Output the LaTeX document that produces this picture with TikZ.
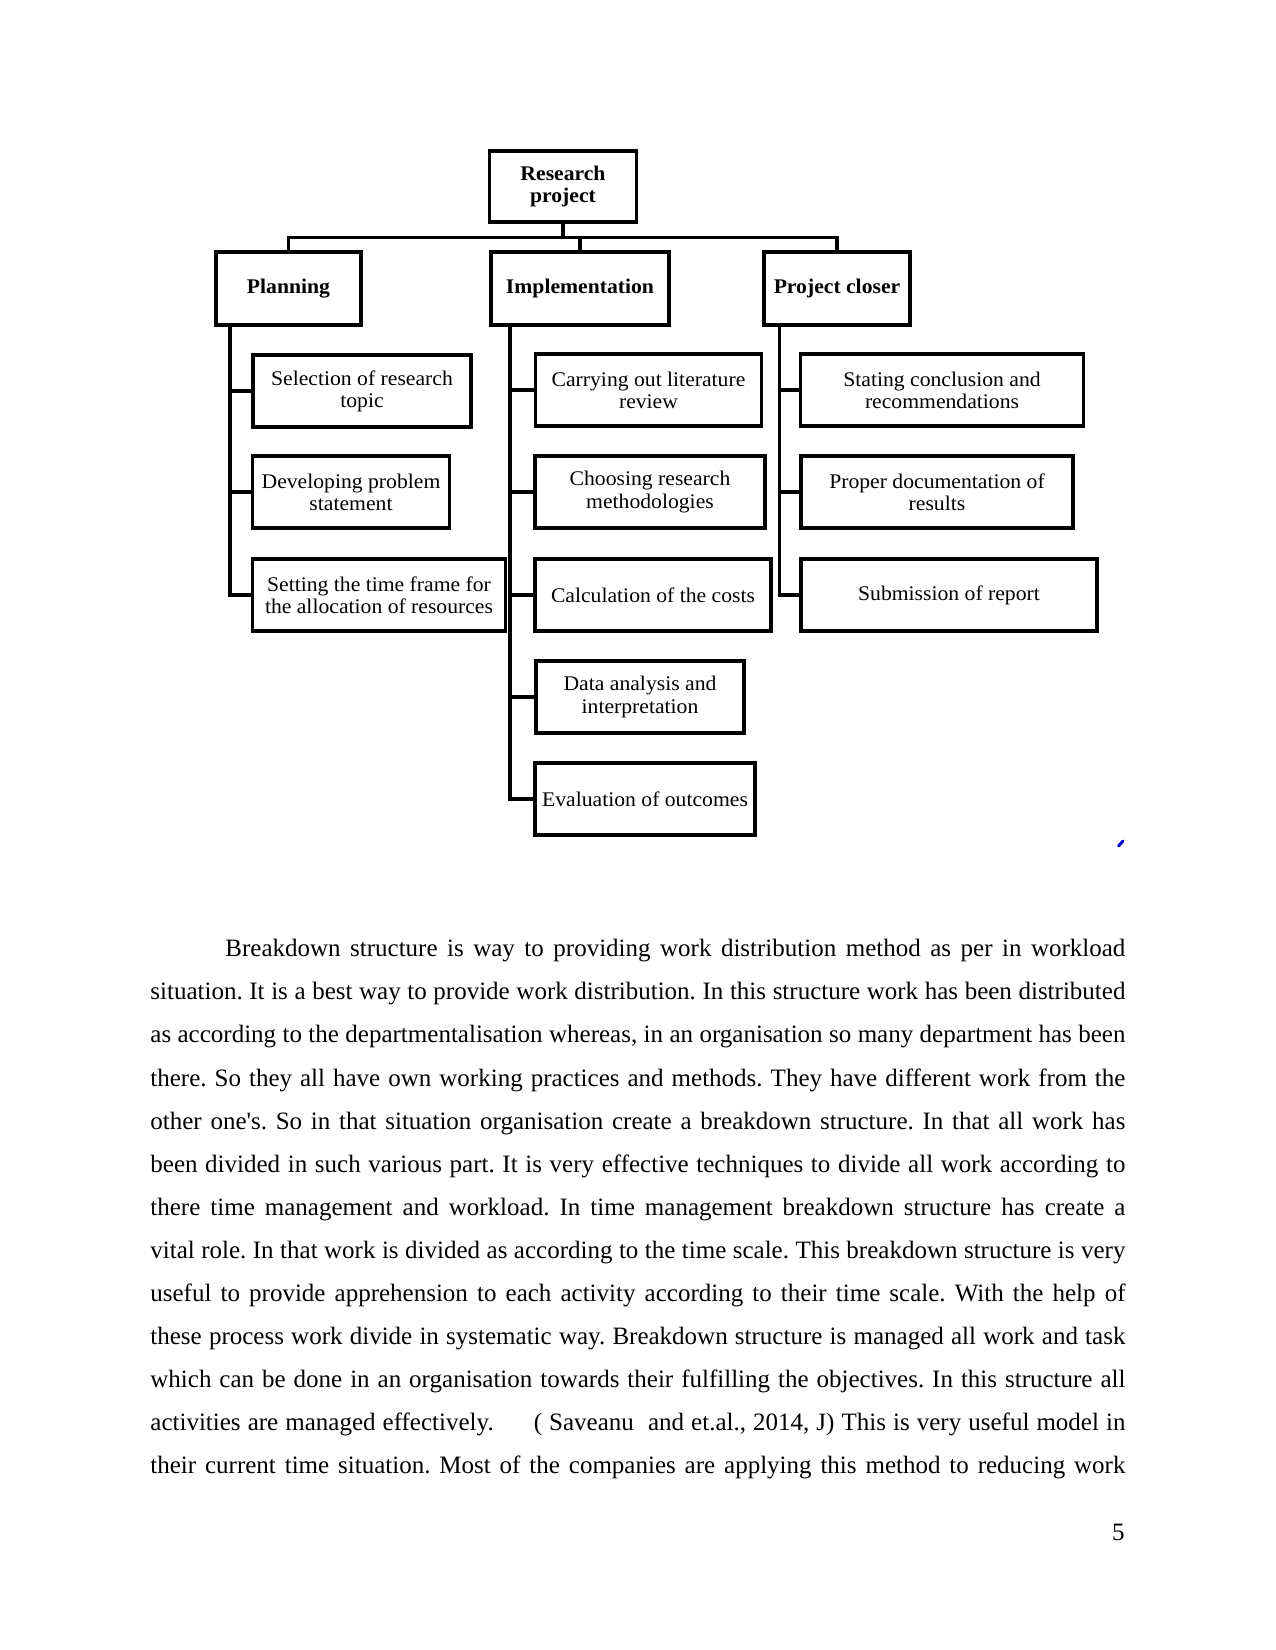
\documentclass[tikz,border=0pt]{standalone}
\usepackage{fontspec}
\setmainfont{Liberation Serif}
\newfontfamily\diagfont[FakeStretch=1.04]{Liberation Serif}
\hbadness=10000
\frenchspacing
\newcommand\jline[1]{\hbox to 468pt{#1}}
\begin{document}
\begin{tikzpicture}[x=0.48pt,y=-0.48pt,
  box/.style={draw, line width=1.9pt, inner sep=1pt, align=center,
    font=\diagfont\fontsize{10}{10.6}\selectfont, minimum height=72*0.48pt},
  head/.style={box, font=\diagfont\bfseries\fontsize{10}{10.6}\selectfont},
  conn/.style={line width=1.9pt},
  para/.style={inner sep=0pt, anchor=base west, font=\frenchspacing\fontsize{12}{14}\selectfont}]
\useasboundingbox (0,0) rectangle (1275,1650);

% top level
\node[head, minimum width=147*0.48pt, minimum height=71*0.48pt] (root) at (563,186.5) {Research\\project};
\node[head, minimum width=145*0.48pt, minimum height=73*0.48pt] (plan) at (288.5,288.5) {Planning};
\node[head, minimum width=178*0.48pt, minimum height=73*0.48pt] (impl) at (580,288.5) {Implementation};
\node[head, minimum width=146*0.48pt, minimum height=73*0.48pt] (close) at (837,288.5) {Project closer};

% planning children
\node[box, minimum width=218*0.48pt] (sel) at (362,391) {Selection of research\\topic};
\node[box, minimum width=197*0.48pt] (dev) at (351,492) {Developing problem\\statement};
\node[box, minimum width=253*0.48pt] (set) at (379,595) {Setting the time frame for\\the allocation of resources};

% implementation children
\node[box, minimum width=226*0.48pt] (carry) at (648.5,390) {Carrying out literature\\review};
\node[box, minimum width=229.5*0.48pt] (choose) at (650,492) {Choosing research\\methodologies};
\node[box, minimum width=235.5*0.48pt] (calc) at (653,595) {Calculation of the costs};
\node[box, minimum width=208.5*0.48pt] (data) at (640,697) {Data analysis and\\interpretation};
\node[box, minimum width=219.5*0.48pt] (eval) at (645,799) {Evaluation of outcomes};

% closer children
\node[box, minimum width=283*0.48pt] (stat) at (942,390) {Stating conclusion and\\recommendations};
\node[box, minimum width=272.5*0.48pt] (proper) at (937,492) {Proper documentation of\\results};
\node[box, minimum width=296.5*0.48pt] (sub) at (949,595) {Submission of report};

% bus
\coordinate (bus) at (0,237.5);
\draw[conn] (root.south) -- (root.south |- bus);
\draw[conn] (plan.north) -- (plan.north |- bus) -- (close.north |- bus) -- (close.north);
\draw[conn] (impl.north) -- (impl.north |- bus);

% vertical spines
\coordinate (pv) at (230,0);
\coordinate (iv) at (510,0);
\coordinate (cv) at (779.5,0);
\draw[conn] (plan.south -| pv) -- (pv |- set.west) -- (set.west);
\draw[conn] (pv |- sel.west) -- (sel.west);
\draw[conn] (pv |- dev.west) -- (dev.west);
\draw[conn] (impl.south -| iv) -- (iv |- eval.west) -- (eval.west);
\draw[conn] (iv |- carry.west) -- (carry.west);
\draw[conn] (iv |- choose.west) -- (choose.west);
\draw[conn] (iv |- calc.west) -- (calc.west);
\draw[conn] (iv |- data.west) -- (data.west);
\draw[conn] (close.south -| cv) -- (cv |- sub.west) -- (sub.west);
\draw[conn] (cv |- stat.west) -- (stat.west);
\draw[conn] (cv |- proper.west) -- (proper.west);

% small blue mark
\coordinate (bm1) at (1118.5,846);
\coordinate (bm2) at (1123,841);
\draw[blue!80!black, line width=1.4pt, line cap=round] (bm1) -- (bm2);

% paragraph
\node[para] (p1) at (150,956.7) {\jline{\hskip 36pt Breakdown structure is way to providing work distribution method as per in workload}};
\node[para] (p2) at (150,999.8) {\jline{situation. It is a best way to provide work distribution. In this structure work has been distributed}};
\node[para] (p3) at (150,1042.9) {\jline{as according to the departmentalisation whereas, in an organisation so many department has been}};
\node[para] (p4) at (150,1086) {\jline{there. So they all have own working practices and methods. They have different work from the}};
\node[para] (p5) at (150,1129.1) {\jline{other one\textquotesingle s. So in that situation organisation create a breakdown structure. In that all work has}};
\node[para] (p6) at (150,1172.2) {\jline{been divided in such various part. It is very effective techniques to divide all work according to}};
\node[para] (p7) at (150,1215.3) {\jline{there time management and workload. In time management breakdown structure has create a}};
\node[para] (p8) at (150,1258.4) {\jline{vital role. In that work is divided as according to the time scale. This breakdown structure is very}};
\node[para] (p9) at (150,1301.5) {\jline{useful to provide apprehension to each activity according to their time scale. With the help of}};
\node[para] (p10) at (150,1344.6) {\jline{these process work divide in systematic way. Breakdown structure is managed all work and task}};
\node[para] (p11) at (150,1387.7) {\jline{which can be done in an organisation towards their fulfilling the objectives. In this structure all}};
\node[para] (p12) at (150,1430.8) {\jline{activities are managed effectively.\hskip 1.6em( Saveanu\ \ and et.al., 2014, J) This is very useful model in}};
\node[para] (p13) at (150,1473.9) {\jline{their current time situation. Most of the companies are applying this method to reducing work}};
\node[para, anchor=base east] (pg) at (1125,1540) {5};
\end{tikzpicture}
\end{document}
